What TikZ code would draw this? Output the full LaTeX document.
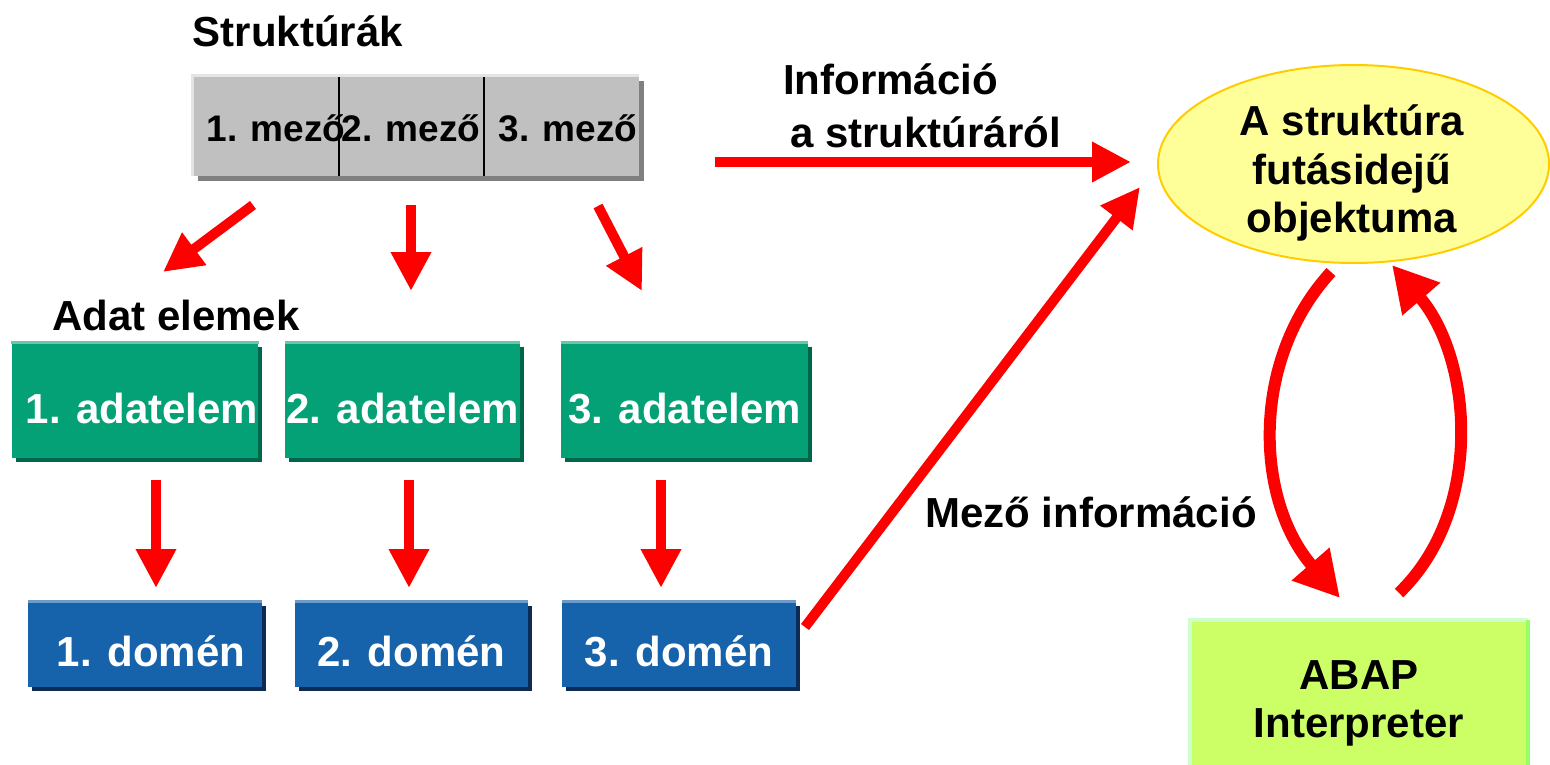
\documentclass[tikz,border=0pt]{standalone}
\usepackage{fontspec}
\setmainfont{Liberation Sans}
\usetikzlibrary{arrows.meta,shapes.geometric,shadows}
\definecolor{arrred}{HTML}{FF0000}
\definecolor{gfill}{HTML}{C0C0C0}
\definecolor{gshadow}{HTML}{808080}
\definecolor{ghi}{HTML}{E4E4E4}
\definecolor{grfill}{HTML}{03A175}
\definecolor{grshadow}{HTML}{00664A}
\definecolor{grhi}{HTML}{6CC7A8}
\definecolor{blfill}{HTML}{1763AB}
\definecolor{blshadow}{HTML}{0D2B55}
\definecolor{blhi}{HTML}{6C9BCB}
\definecolor{ellfill}{HTML}{FFFF99}
\definecolor{elldraw}{HTML}{FFCC00}
\definecolor{abfill}{HTML}{CCFF66}
\definecolor{abhi}{HTML}{CCFFCC}
\definecolor{abdark}{HTML}{99FF66}
\begin{document}
\begin{tikzpicture}[x=1pt,y=-1pt,
  lbl/.style={font=\fontsize{42}{48.5}\selectfont\bfseries, inner sep=0pt},
  mezo/.style={font=\fontsize{37}{44}\selectfont\bfseries, inner sep=0pt},
  graybox/.style={rectangle, inner sep=0pt, fill=gfill,
    drop shadow={shadow xshift=5pt, shadow yshift=-5pt, fill=gshadow, opacity=1}},
  greenbox/.style={rectangle, inner sep=0pt, fill=grfill, text=white,
    font=\fontsize{42}{48}\selectfont\bfseries, text height=45pt, text depth=0pt,
    minimum height=115pt,
    drop shadow={shadow xshift=4pt, shadow yshift=-4pt, fill=grshadow, opacity=1}},
  bluebox/.style={rectangle, inner sep=0pt, fill=blfill, text=white,
    font=\fontsize{42}{48}\selectfont\bfseries, text height=43pt, text depth=0pt,
    minimum height=85pt,
    drop shadow={shadow xshift=4pt, shadow yshift=-4pt, fill=blshadow, opacity=1}},
  arr/.style={draw=arrred, line width=10pt, -{Triangle[width=38pt,length=39pt]}},
  bigarr/.style={draw=arrred, line width=12pt, -{Triangle[width=47pt,length=45pt]}},
  divider/.style={draw=black, line width=2pt},
]
\useasboundingbox (0,0) rectangle (1550,765);

% structure title
\node[lbl, anchor=base] (struk) at (298,47) {Struktúrák};

% gray structure box
\node[graybox, minimum width=446pt, minimum height=100pt] (gbox) at (416,126) {};
\draw[ghi, line width=3pt] (gbox.south west) -- (gbox.north west) -- (gbox.north east);
\coordinate (d1t) at (339,77);
\coordinate (d1b) at (339,176);
\coordinate (d2t) at (484,77);
\coordinate (d2b) at (484,176);
\draw[divider] (d1t) -- (d1b);
\draw[divider] (d2t) -- (d2b);
\node[mezo, anchor=base] (m1) at (276,142) {1. mező};
\node[mezo, anchor=base] (m2) at (411,142) {2. mező};
\node[mezo, anchor=base] (m3) at (568,142) {3. mező};

% arrows from structure to data elements
\coordinate (a1s) at (253,205);
\coordinate (a1e) at (163,272);
\coordinate (a2s) at (411,205);
\coordinate (a2e) at (411,291);
\coordinate (a3s) at (598,206);
\coordinate (a3e) at (642,291);
\draw[arr] (a1s) -- (a1e);
\draw[arr] (a2s) -- (a2e);
\draw[arr] (a3s) -- (a3e);

% data elements
\node[lbl, anchor=base] (adat) at (176,330) {Adat elemek};
\node[greenbox, minimum width=246pt] (g1) at (135,400.5) {\hspace*{14pt}1. adatelem};
\node[greenbox, minimum width=235pt] (g2) at (402.5,400.5) {2. adatelem};
\node[greenbox, minimum width=247pt] (g3) at (684.5,400.5) {3. adatelem};
\draw[grhi, line width=3pt] (g1.north west) -- (g1.north east);
\draw[grhi, line width=3pt] (g2.north west) -- (g2.north east);
\draw[grhi, line width=3pt] (g3.north west) -- (g3.north east);

% arrows data elements -> domains
\coordinate (v1s) at (156,480);
\coordinate (v1e) at (156,588);
\coordinate (v2s) at (409,480);
\coordinate (v2e) at (409,588);
\coordinate (v3s) at (661,480);
\coordinate (v3e) at (661,588);
\draw[arr] (v1s) -- (v1e);
\draw[arr] (v2s) -- (v2e);
\draw[arr] (v3s) -- (v3e);

% domains
\node[bluebox, minimum width=234pt] (b1) at (145,644.5) {\hspace*{12pt}1. domén};
\node[bluebox, minimum width=233pt] (b2) at (411.5,644.5) {2. domén};
\node[bluebox, minimum width=234pt] (b3) at (679,644.5) {3. domén};
\draw[blhi, line width=3pt] (b1.north west) -- (b1.north east);
\draw[blhi, line width=3pt] (b2.north west) -- (b2.north east);
\draw[blhi, line width=3pt] (b3.north west) -- (b3.north east);

% runtime object
\node[ellipse, draw=elldraw, line width=2pt, fill=ellfill,
      minimum width=391pt, minimum height=198pt, inner sep=0pt] (obj) at (1353.5,164) {};
\node[lbl, align=center] (objt) at (1352,173) {A struktúra\\futásidejű\\objektuma};

% information about structure
\node[lbl, anchor=base west] (info1) at (783,95) {Információ};
\node[lbl, anchor=base west] (info2) at (790,148) {a struktúráról};
\coordinate (hs) at (715,162);
\coordinate (he) at (1131,162);
\draw[arr] (hs) -- (he);

% field information
\coordinate (ds) at (805,627);
\coordinate (de) at (1140,187);
\draw[arr] (ds) -- (de);
\node[lbl, anchor=base] (mezoinfo) at (1091,527) {Mező információ};

% ABAP interpreter
\node[rectangle, fill=abfill, minimum width=338pt, minimum height=167pt, inner sep=0pt,
      lbl, align=center] (abap) at (1359,703.5) {ABAP\\Interpreter};
\draw[abhi, line width=4pt] (abap.south west) -- (abap.north west) -- (abap.north east);
\draw[abdark, line width=4pt] (abap.north east) -- (abap.south east);

% curved arrows
\coordinate (c1s) at (1331,272);
\coordinate (c1e) at (1340,598);
\coordinate (c2s) at (1399,593);
\coordinate (c2e) at (1392,265);
\draw[bigarr] (c1s) .. controls (1250,360) and (1255,500) .. (c1e);
\draw[bigarr] (c2s) .. controls (1485,510) and (1472,358) .. (c2e);
\end{tikzpicture}
\end{document}
